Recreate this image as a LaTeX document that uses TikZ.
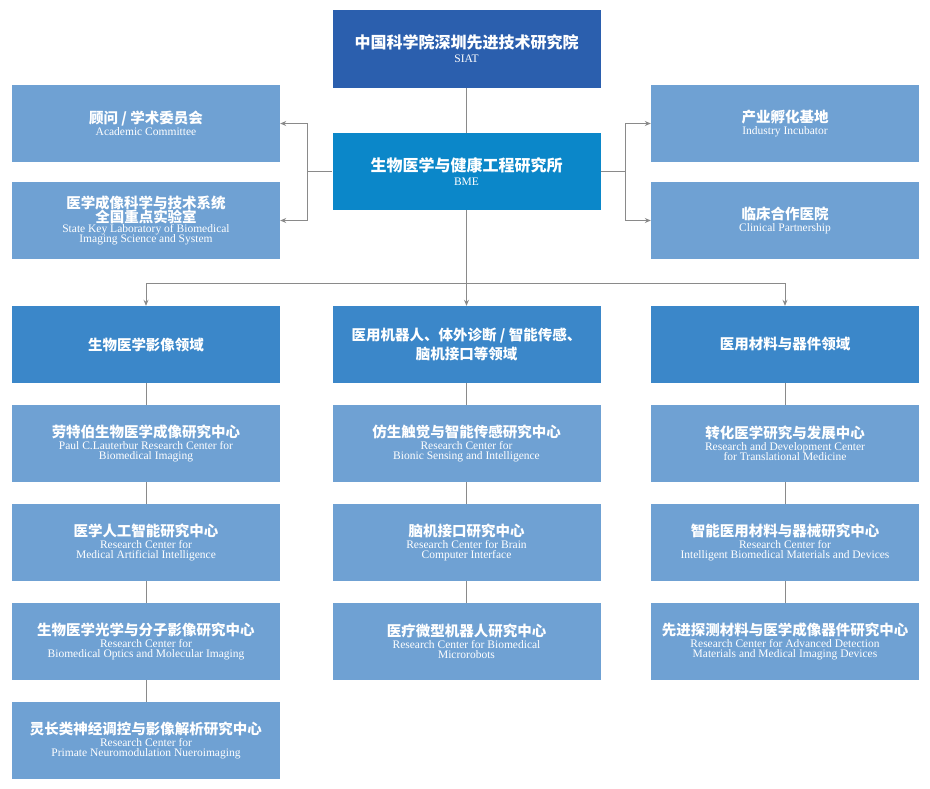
\documentclass[tikz,border=0pt]{standalone}
\usepackage{fontspec}
\setmainfont{Liberation Serif}
\newfontfamily\cjk{Noto Sans CJK SC}
\usetikzlibrary{arrows.meta}
\definecolor{siat}{HTML}{2B5FAE}
\definecolor{bme}{HTML}{0B87C9}
\definecolor{lite}{HTML}{6FA1D3}
\definecolor{dom}{HTML}{3B87C9}
\definecolor{ln}{HTML}{8A8A8A}
\newcommand{\cn}[1]{{\cjk\bfseries\fontsize{14.5}{18}\selectfont #1}}
\newcommand{\en}[1]{{\fontsize{11.5}{13.5}\selectfont #1}}
\begin{document}
\begin{tikzpicture}[x=1pt,y=-1pt,
  box/.style={minimum width=268pt,minimum height=77pt,inner sep=0pt,text=white,align=center,fill=lite},
  con/.style={draw=ln,line width=0.9pt},
  arr/.style={con,-{Stealth[length=6pt,width=5pt]}}]
\useasboundingbox (0,0) rectangle (930,788);
\node[box,fill=siat,minimum height=78pt] (siat) at (466.5,49) {{\cjk\bfseries\fontsize{16}{20}\selectfont 中国科学院深圳先进技术研究院}\\[2pt]\en{SIAT}};
\node[box,fill=bme] (bme) at (466.5,171.5) {{\cjk\bfseries\fontsize{16}{20}\selectfont 生物医学与健康工程研究所}\\[2pt]\en{BME}};
\node[box] (ac) at (146,123.5) {\cn{顾问 / 学术委员会}\\\en{Academic Committee}};
\node[box] (sk) at (146,220.5) {\cn{医学成像科学与技术系统}\\[-2pt]\cn{全国重点实验室}\\[-2pt]\en{State Key Laboratory of Biomedical}\\[-2pt]\en{Imaging Science and System}};
\node[box] (ii) at (785,123.5) {\cn{产业孵化基地}\\\en{Industry Incubator}};
\node[box] (cp) at (785,220.5) {\cn{临床合作医院}\\\en{Clinical Partnership}};
\node[box,fill=dom] (d1) at (146,344.5) {\cn{生物医学影像领域}};
\node[box,fill=dom] (d2) at (466.5,344.5) {\cn{医用机器人、体外诊断 / 智能传感、}\\[2pt]\cn{脑机接口等领域}};
\node[box,fill=dom] (d3) at (785,344.5) {\cn{医用材料与器件领域}};
\node[box] (l1) at (146,443.5) {\cn{劳特伯生物医学成像研究中心}\\\en{Paul C.Lauterbur Research Center for}\\[-2pt]\en{Biomedical Imaging}};
\node[box] (l2) at (146,542.5) {\cn{医学人工智能研究中心}\\\en{Research Center for}\\[-2pt]\en{Medical Artificial Intelligence}};
\node[box] (l3) at (146,641.5) {\cn{生物医学光学与分子影像研究中心}\\\en{Research Center for}\\[-2pt]\en{Biomedical Optics and Molecular Imaging}};
\node[box] (l4) at (146,740.5) {\cn{灵长类神经调控与影像解析研究中心}\\\en{Research Center for}\\[-2pt]\en{Primate Neuromodulation Nueroimaging}};
\node[box] (c1) at (466.5,443.5) {\cn{仿生触觉与智能传感研究中心}\\\en{Research Center for}\\[-2pt]\en{Bionic Sensing and Intelligence}};
\node[box] (c2) at (466.5,542.5) {\cn{脑机接口研究中心}\\\en{Research Center for Brain}\\[-2pt]\en{Computer Interface}};
\node[box] (c3) at (466.5,641.5) {\cn{医疗微型机器人研究中心}\\\en{Research Center for Biomedical}\\[-2pt]\en{Microrobots}};
\node[box] (r1) at (785,443.5) {\cn{转化医学研究与发展中心}\\\en{Research and Development Center}\\[-2pt]\en{for Translational Medicine}};
\node[box] (r2) at (785,542.5) {\cn{智能医用材料与器械研究中心}\\\en{Research Center for}\\[-2pt]\en{Intelligent Biomedical Materials and Devices}};
\node[box] (r3) at (785,641.5) {\cn{先进探测材料与医学成像器件研究中心}\\\en{Research Center for Advanced Detection}\\[-2pt]\en{Materials and Medical Imaging Devices}};
\coordinate (lb) at (307,171.5);
\coordinate (rb) at (625,171.5);
\coordinate (hb) at (466.5,283);
\draw[con] (siat.south) -- (bme.north);
\draw[con] (bme.west) -- (lb);
\draw[arr] (lb) |- (ac.east);
\draw[arr] (lb) |- (sk.east);
\draw[con] (bme.east) -- (rb);
\draw[arr] (rb) |- (ii.west);
\draw[arr] (rb) |- (cp.west);
\draw[arr] (bme.south) -- (d2.north);
\draw[arr] (hb) -| (d1.north);
\draw[arr] (hb) -| (d3.north);
\foreach \a/\b in {d1/l1,l1/l2,l2/l3,l3/l4,d2/c1,c1/c2,c2/c3,d3/r1,r1/r2,r2/r3}
  \draw[con] (\a.south) -- (\b.north);
\end{tikzpicture}
\end{document}
